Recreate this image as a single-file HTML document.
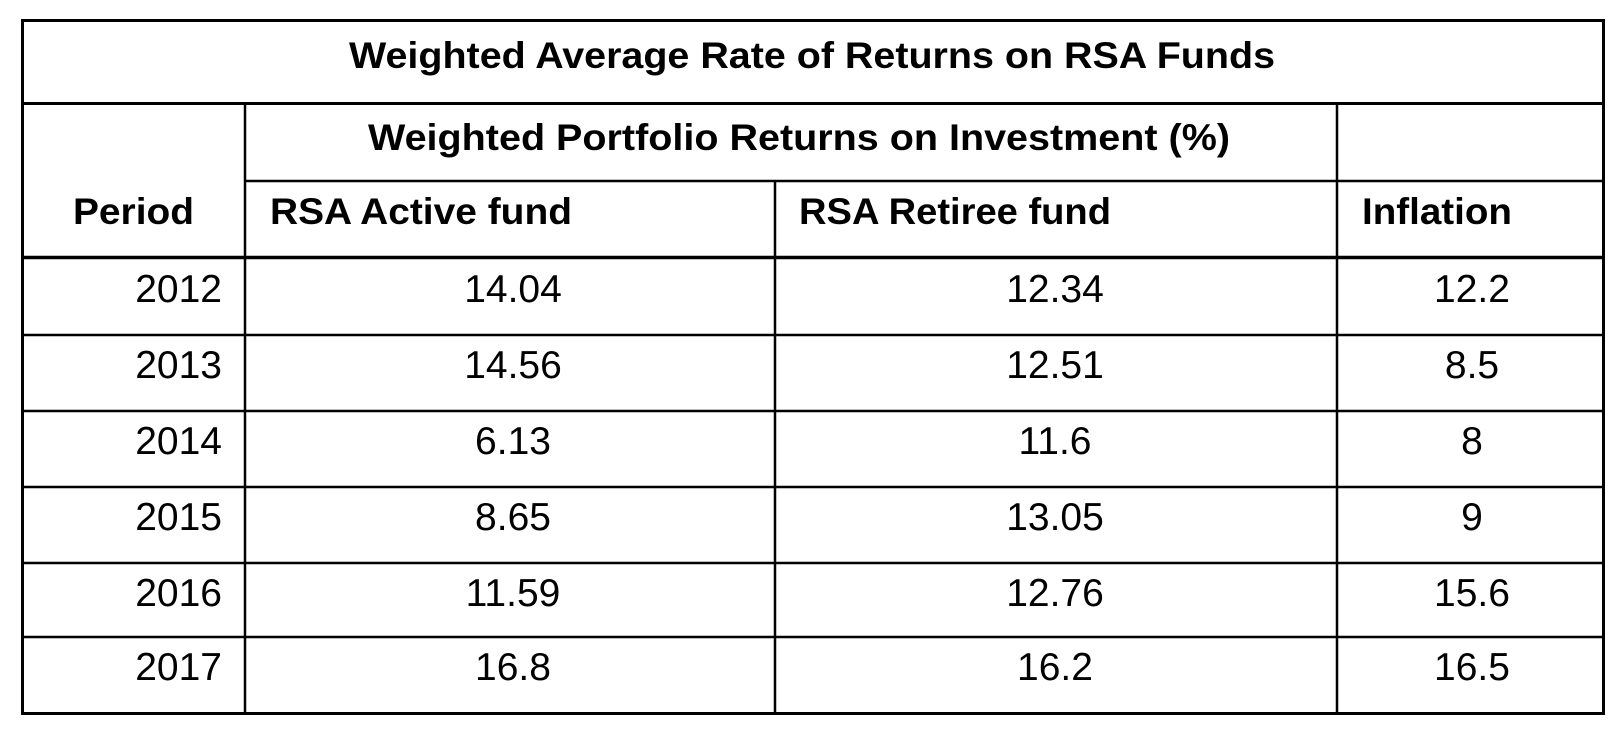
<!DOCTYPE html>
<html><head><meta charset="utf-8"><style>
html,body{margin:0;padding:0;background:#fff;width:1624px;height:738px;overflow:hidden}
svg{display:block}
text{font-family:"Liberation Sans",sans-serif;fill:#000}
.b{font-weight:bold;font-size:37px}
.r{font-size:39px}
</style></head><body>
<svg width="1624" height="738" viewBox="0 0 1624 738">
<g stroke="#000">
<rect x="22.5" y="20.5" width="1581" height="693" fill="none" stroke-width="3"/>
<line x1="21" y1="103.5" x2="1605" y2="103.5" stroke-width="3"/>
<line x1="245" y1="103" x2="245" y2="714" stroke-width="2.5"/>
<line x1="775" y1="181" x2="775" y2="714" stroke-width="2.5"/>
<line x1="1337" y1="103" x2="1337" y2="714" stroke-width="2.5"/>
<line x1="245" y1="181" x2="1604" y2="181" stroke-width="2.5"/>
<line x1="21" y1="257.5" x2="1604" y2="257.5" stroke-width="3.5"/>
<line x1="21" y1="335" x2="1604" y2="335" stroke-width="2.5"/>
<line x1="21" y1="411" x2="1604" y2="411" stroke-width="2.5"/>
<line x1="21" y1="487" x2="1604" y2="487" stroke-width="2.5"/>
<line x1="21" y1="563" x2="1604" y2="563" stroke-width="2.5"/>
<line x1="21" y1="637" x2="1604" y2="637" stroke-width="2.5"/>
</g>
<text class="b" x="349" y="68" textLength="926" lengthAdjust="spacingAndGlyphs">Weighted Average Rate of Returns on RSA Funds</text>
<text class="b" x="368" y="150" textLength="862" lengthAdjust="spacingAndGlyphs">Weighted Portfolio Returns on Investment (%)</text>
<text class="b" x="73" y="224" textLength="121" lengthAdjust="spacingAndGlyphs">Period</text>
<text class="b" x="270" y="224" textLength="302" lengthAdjust="spacingAndGlyphs">RSA Active fund</text>
<text class="b" x="799" y="224" textLength="312" lengthAdjust="spacingAndGlyphs">RSA Retiree fund</text>
<text class="b" x="1362" y="224" textLength="150" lengthAdjust="spacingAndGlyphs">Inflation</text>
<g id="rows"></g>
</svg>
<script>
const years=["2012","2013","2014","2015","2016","2017"];
const active=["14.04","14.56","6.13","8.65","11.59","16.8"];
const retiree=["12.34","12.51","11.6","13.05","12.76","16.2"];
const inflation=["12.2","8.5","8","9","15.6","16.5"];
const rowTops=[259,335,411,487,563,637];
const g=document.getElementById('rows');
const NS='http://www.w3.org/2000/svg';
function t(str,x,y,anchor,name){
  const e=document.createElementNS(NS,'text');
  e.setAttribute('class','r');
  e.setAttribute('x',x);e.setAttribute('y',y);
  e.setAttribute('text-anchor',anchor);
  
  
  e.textContent=str;g.appendChild(e);
}
years.forEach((yr,i)=>{
  const y=rowTops[i]+43;
  t(yr,222,y,'end','period-'+yr);
  t(active[i],513,y,'middle','active-'+yr);
  t(retiree[i],1055,y,'middle','retiree-'+yr);
  t(inflation[i],1472,y,'middle','inflation-'+yr);
});
</script>
</body></html>
